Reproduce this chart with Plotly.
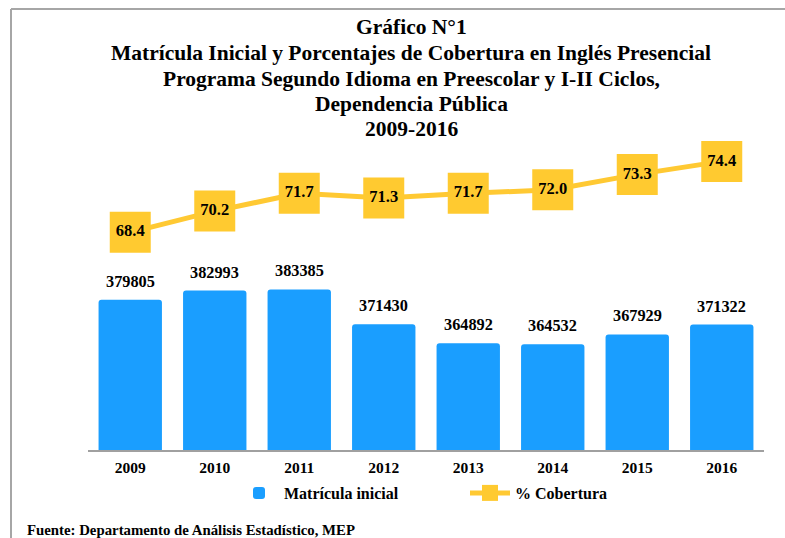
import plotly.graph_objects as go

years = ["2009", "2010", "2011", "2012", "2013", "2014", "2015", "2016"]
matricula = [379805, 382993, 383385, 371430, 364892, 364532, 367929, 371322]
cobertura = [68.4, 70.2, 71.7, 71.3, 71.7, 72.0, 73.3, 74.4]

title_lines = [
    "Gráfico N°1",
    "Matrícula Inicial y Porcentajes de Cobertura en Inglés Presencial",
    "Programa Segundo Idioma en Preescolar y I-II Ciclos,",
    "Dependencia Pública",
    "2009-2016",
]
source = "Fuente: Departamento de Análisis Estadístico, MEP"

FONT = "Times New Roman, Liberation Serif, serif"
W, H = 785, 538
L, R, T, B = 88, 21, 100, 88
plot_h = H - T - B
plot_w = W - L - R

def py(p):
    return (H - B - p) / plot_h

def px(p):
    return (p - L) / plot_w

fig = go.Figure()
fig.add_trace(go.Bar(
    x=years, y=matricula, name="Matrícula inicial",
    marker=dict(color="#1A9EFF", cornerradius=3, line=dict(width=0)),
    yaxis="y",
))
fig.add_trace(go.Scatter(
    x=years, y=cobertura, name="% Cobertura",
    mode="lines+markers+text",
    line=dict(color="#FFC933", width=5),
    marker=dict(symbol="square", size=41, color="#FFCA30"),
    text=[f"{v:.1f}" for v in cobertura],
    textposition="middle center",
    textfont=dict(family=FONT, size=16.5, color="#000000", weight="bold"),
    yaxis="y2",
))

annotations = []
for i, v in enumerate(matricula):
    annotations.append(dict(
        x=i, y=v, xref="x", yref="y", text=f"<b>{v}</b>", showarrow=False,
        yanchor="bottom", yshift=7,
        font=dict(family=FONT, size=16.3, color="#000000"),
    ))

title_centers = [27, 53, 79, 104, 129]
for line, c in zip(title_lines, title_centers):
    annotations.append(dict(
        x=px(411), y=py(c), xref="paper", yref="paper", text=f"<b>{line}</b>",
        showarrow=False, xanchor="center", yanchor="middle",
        font=dict(family=FONT, size=21.5, color="#000000"),
    ))

annotations.append(dict(
    x=px(25), y=py(530), xref="paper", yref="paper", text=f"<b>{source}</b>",
    showarrow=False, xanchor="left", yanchor="middle",
    font=dict(family=FONT, size=14.8, color="#000000"),
))

shapes = [
    dict(type="line", xref="paper", yref="paper", x0=px(11), x1=px(11), y0=py(9), y1=py(560),
         line=dict(color="#A6A6A6", width=2)),
    dict(type="line", xref="paper", yref="paper", x0=px(11), x1=px(800), y0=py(9), y1=py(9),
         line=dict(color="#A6A6A6", width=2)),
]

fig.update_layout(
    width=W, height=H,
    margin=dict(l=L, r=R, t=T, b=B),
    paper_bgcolor="white", plot_bgcolor="white",
    bargap=0.25,
    font=dict(family=FONT, color="#000000"),
    xaxis=dict(
        type="category", range=[-0.5, len(years) - 0.5],
        showline=True, linecolor="#A0A0A0", linewidth=1.5,
        showgrid=False, ticks="outside", ticklen=3, tickcolor="rgba(0,0,0,0)",
        tickfont=dict(family=FONT, size=15.5, color="#000000", weight="bold"),
    ),
    yaxis=dict(range=[328300, 448350], visible=False, showgrid=False, zeroline=False),
    yaxis2=dict(range=[50, 79.59], overlaying="y", side="right", visible=False,
                showgrid=False, zeroline=False),
    showlegend=True,
    legend=dict(
        orientation="h", x=px(234), y=py(493), xanchor="left", yanchor="middle",
        font=dict(family=FONT, size=16, color="#000000", weight="bold"),
        itemwidth=40, entrywidth=176, entrywidthmode="pixels",
        bgcolor="rgba(0,0,0,0)",
    ),
    annotations=annotations,
    shapes=shapes,
)

fig.write_html("out.html", config={"displayModeBar": False},
               post_script="document.body.style.margin='0';")
